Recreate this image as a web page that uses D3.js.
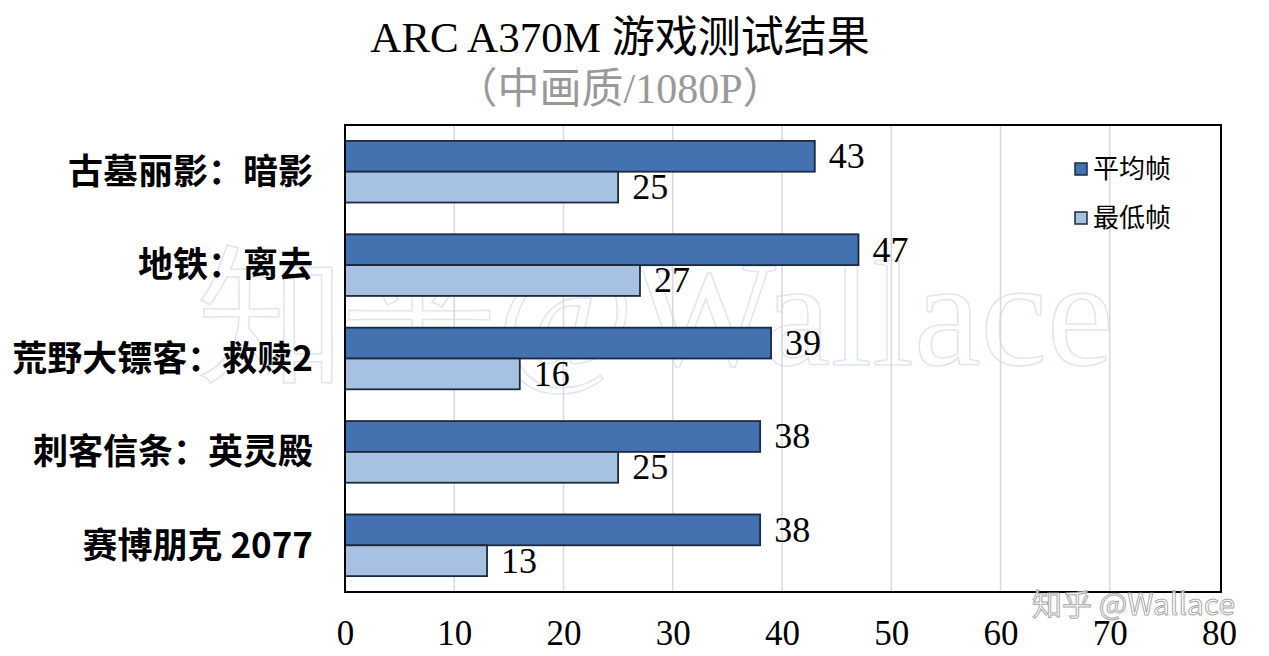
<!DOCTYPE html>
<html><head><meta charset="utf-8">
<script src="https://cdn.jsdelivr.net/npm/d3@7/dist/d3.min.js"></script>
<style>body{margin:0;background:#fff}svg{display:block}</style>
</head><body>
<script>
const categories = ["古墓丽影：暗影","地铁：离去","荒野大镖客：救赎2","刺客信条：英灵殿","赛博朋克 2077"];
const avgFps = [43,47,39,38,38];
const minFps = [25,27,16,25,13];
const seriesNames = ["平均帧","最低帧"];
const xTicks = [0,10,20,30,40,50,60,70,80];
const title = "ARC A370M 游戏测试结果";
const subtitle = "（中画质/1080P）";

const W=1269,H=656;
const svg=d3.select("body").append("svg").attr("width",W).attr("height",H);
const m={l:345,r:1219,t:125,b:592};
const serif="'Liberation Serif','Times New Roman',serif";
const cjk="'Noto Sans CJK SC',sans-serif";
const colors=["#4471AF","#A7C1E3"];

const x=d3.scaleLinear().domain([0,80]).range([m.l,m.r]);
const y=d3.scaleBand().domain(categories).range([m.t,m.b]).paddingInner(0.34).paddingOuter(0.17);
const ys=d3.scaleBand().domain([0,1]).range([0,y.bandwidth()]);

// watermark big
svg.append("text").attr("x",655).attr("y",365).attr("text-anchor","middle")
  .attr("font-family",serif).attr("font-size",150).attr("fill","none")
  .attr("stroke","#ccd6e2").attr("stroke-width",1.5).attr("opacity",0.6).text("知乎@Wallace");

// grid
svg.append("g").selectAll("line").data(xTicks.slice(1,-1)).join("line")
  .attr("x1",d=>x(d)).attr("x2",d=>x(d)).attr("y1",m.t).attr("y2",m.b)
  .attr("stroke","#d9d9d9").attr("stroke-width",1.5);

// bars
const data=categories.map((c,i)=>({c,v:[avgFps[i],minFps[i]]}));
const g=svg.append("g").selectAll("g").data(data).join("g").attr("transform",d=>`translate(0,${y(d.c)})`);
g.selectAll("rect").data(d=>d.v.map((v,k)=>({v,k}))).join("rect")
  .attr("x",x(0)).attr("y",d=>ys(d.k)).attr("width",d=>x(d.v)-x(0)).attr("height",ys.bandwidth())
  .attr("fill",d=>colors[d.k]).attr("stroke","#1c2a3e").attr("stroke-width",1.8);
g.selectAll("text").data(d=>d.v.map((v,k)=>({v,k}))).join("text")
  .attr("x",d=>x(d.v)+14).attr("y",d=>ys(d.k)+ys.bandwidth()/2+12)
  .attr("font-family",serif).attr("font-size",36).attr("fill","#000").text(d=>d.v);

// frame
svg.append("rect").attr("x",m.l).attr("y",m.t).attr("width",m.r-m.l+2).attr("height",m.b-m.t)
  .attr("fill","none").attr("stroke","#000").attr("stroke-width",2);

// x axis labels
const xa=svg.append("g").attr("transform",`translate(0,${m.b})`)
  .call(d3.axisBottom(x).tickValues(xTicks).tickSize(0).tickPadding(28));
xa.select(".domain").remove();
xa.selectAll("text").attr("font-family",serif).attr("font-size",35).attr("fill","#000");

// y labels
const ya=svg.append("g").attr("transform",`translate(${m.l},0)`)
  .call(d3.axisLeft(y).tickSize(0).tickPadding(32));
ya.select(".domain").remove();
ya.selectAll("text").attr("font-family",cjk).attr("font-weight","bold").attr("font-size",35).attr("fill","#000").attr("dy","0.35em");

// titles
svg.append("text").attr("x",620).attr("y",52).attr("text-anchor","middle")
  .attr("font-family",serif+",'Noto Sans CJK SC'").attr("font-size",43).attr("fill","#000").text(title);
svg.append("text").attr("x",620).attr("y",103).attr("text-anchor","middle")
  .attr("font-family",serif+",'Noto Sans CJK SC'").attr("font-size",42).attr("fill","#999").text(subtitle);

// legend
const lg=svg.append("g").selectAll("g").data(seriesNames).join("g")
  .attr("transform",(d,i)=>`translate(1075,${163+i*49})`);
lg.append("rect").attr("width",12).attr("height",12).attr("fill",(d,i)=>colors[i]).attr("stroke","#1c2a3e").attr("stroke-width",1.5);
lg.append("text").attr("x",18).attr("y",15).attr("font-family",cjk).attr("font-size",26).attr("fill","#000").text(d=>d);

// small watermark
svg.append("text").attr("x",1235).attr("y",615).attr("text-anchor","end")
  .attr("font-family","'Noto Sans CJK SC',sans-serif").attr("font-size",30).attr("fill","#fff")
  .attr("stroke","#999").attr("stroke-width",1).attr("opacity",0.85).text("知乎 @Wallace");
</script>
</body></html>
